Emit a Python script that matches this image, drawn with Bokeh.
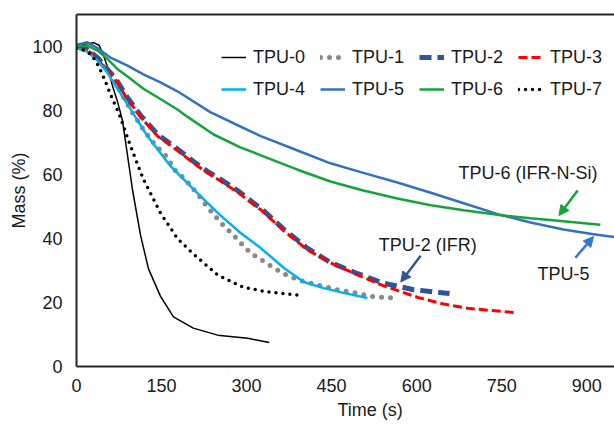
from bokeh.plotting import figure
from bokeh.models import (Range1d, LinearAxis, FixedTicker, Legend, LegendItem,
                          Label, Arrow, NormalHead, Title)
from bokeh.embed import file_html
from bokeh.resources import INLINE

FONT = "Liberation Sans"

# ---------------- data (time in s, mass in %) ----------------
x_ticks = [0, 150, 300, 450, 600, 750, 900]
y_ticks = [0, 20, 40, 60, 80, 100]

tpu0_t = [0, 15, 30, 40, 48, 56, 63, 72, 81, 90, 99, 113, 127, 148, 171, 206, 249, 302, 340]
tpu0_m = [100, 100.8, 101.2, 100.4, 97, 93, 88, 83, 77, 66, 55, 41, 30.5, 22, 15.5, 12, 9.8, 8.8, 7.5]

tpu1_t = [0, 20, 40, 60, 80, 100, 120, 140, 160, 175, 192, 213, 228, 242, 258, 277, 293, 307, 334, 363, 392, 425, 460, 492, 524, 558]
tpu1_m = [100, 99, 96, 91.5, 85, 79, 73.5, 69, 65.4, 61, 58.5, 54, 50.5, 47.5, 44.3, 41, 38, 35.5, 32.4, 29.2, 27, 25.5, 24, 23, 21.8, 21.4]

tpu2_t = [0, 20, 37, 54, 69, 90, 113, 143, 178, 207, 231, 254, 284, 313, 325, 365, 407, 448, 496, 542, 595, 648, 658]
tpu2_m = [100, 99, 96.5, 93, 90, 84, 78.5, 72.5, 68, 64, 61, 58.5, 55, 51, 49.5, 43, 37, 32.5, 29, 26, 24, 23, 22.8]

tpu3_t = [0, 20, 37, 54, 69, 90, 113, 143, 178, 207, 231, 254, 284, 313, 325, 365, 407, 448, 496, 542, 602, 648, 690, 731, 778]
tpu3_m = [100, 98.8, 96, 92.5, 89.5, 83.5, 78, 72, 67.5, 63.5, 60.5, 58, 54.5, 50.5, 49, 42.5, 36.5, 32.4, 28.6, 25.2, 21.6, 19.5, 18.2, 17.5, 16.8]

tpu4_t = [0, 19, 37, 54, 69, 95, 125, 166, 207, 249, 289, 325, 366, 401, 436, 471, 513]
tpu4_m = [99.5, 98.4, 95.6, 92, 87.7, 80.5, 72, 62.6, 55.3, 48, 41.8, 37, 30.8, 26.4, 24.5, 23, 21.4]

tpu5_t = [0, 19, 37, 60, 90, 118, 148, 178, 236, 289, 325, 390, 448, 506, 566, 625, 683, 743, 801, 859, 912, 960]
tpu5_m = [100.5, 101.3, 99.5, 96.5, 94, 91.3, 88.8, 86, 79.5, 75, 72, 67.5, 63.5, 60.5, 57.5, 54.3, 51, 47.6, 45, 42.8, 41.3, 40.2]

tpu6_t = [0, 19, 37, 54, 72, 90, 118, 148, 178, 196, 242, 289, 325, 390, 448, 506, 566, 625, 683, 743, 801, 859, 924]
tpu6_m = [100, 100.3, 98.7, 96.2, 93, 90.6, 86.8, 83.6, 80.3, 78, 72.5, 68.5, 66, 61.5, 57.8, 55, 52.5, 50.4, 48.8, 47.4, 46.3, 45.4, 44.3]

tpu7_t = [0, 10, 20, 30, 40, 50, 60, 75, 95, 118, 148, 178, 207, 249, 295, 337, 392]
tpu7_m = [99.5, 99, 98.3, 96.5, 93.5, 89.5, 85, 79, 69, 58.5, 48, 40, 35, 28.6, 24.7, 23.3, 22.3]

names = ["TPU-0", "TPU-1", "TPU-2", "TPU-3", "TPU-4", "TPU-5", "TPU-6", "TPU-7"]

# ---------------- figure ----------------
p = figure(width=614, height=427, output_backend="svg", toolbar_location=None,
           x_range=Range1d(0, 949), y_range=Range1d(0, 110),
           min_border_left=76, min_border_right=0, min_border_top=14, min_border_bottom=61)
p.outline_line_color = None
p.xgrid.visible = False
p.ygrid.visible = False
p.background_fill_color = "white"
p.border_fill_color = "white"

AX = "#262626"
TXT = "#1a1a1a"
p.xaxis.ticker = FixedTicker(ticks=x_ticks)
p.yaxis.ticker = FixedTicker(ticks=y_ticks)
p.yaxis.axis_label = "Mass (%)"
for ax in (p.xaxis[0], p.yaxis[0]):
    ax.axis_line_color = AX
    ax.axis_line_width = 2
    ax.major_tick_line_color = None
    ax.minor_tick_line_color = None
    ax.major_label_text_font = FONT
    ax.major_label_text_font_size = "18px"
    ax.major_label_text_color = TXT
    ax.axis_label_text_font = FONT
    ax.axis_label_text_font_size = "18px"
    ax.axis_label_text_font_style = "normal"
    ax.axis_label_text_color = TXT
p.xaxis.major_label_standoff = 6
p.yaxis.major_label_standoff = 8
p.yaxis.axis_label_standoff = 0

top = LinearAxis(ticker=FixedTicker(ticks=[]), axis_line_color=AX, axis_line_width=2,
                 major_tick_line_color=None, minor_tick_line_color=None,
                 major_label_text_font_size="0px")
p.add_layout(top, "above")

xtitle = Title(text="Time (s)", align="left", offset=261, standoff=6,
               text_font=FONT, text_font_size="18px", text_font_style="normal", text_color=TXT)
p.add_layout(xtitle, "below")

# ---------------- lines ----------------
r0 = p.line(tpu0_t, tpu0_m, line_color="black", line_width=1.5)
r1 = p.line(tpu1_t, tpu1_m, line_color="#8a8a8a", line_width=5, line_dash="0 9", line_cap="round")
r2 = p.line(tpu2_t, tpu2_m, line_color="#2f5597", line_width=5, line_dash="12 6")
r3 = p.line(tpu3_t, tpu3_m, line_color="#ff0000", line_width=3, line_dash="9 4")
r4 = p.line(tpu4_t, tpu4_m, line_color="#00b0f0", line_width=2.5)
r5 = p.line(tpu5_t, tpu5_m, line_color="#3571c1", line_width=2.5)
r6 = p.line(tpu6_t, tpu6_m, line_color="#16a33c", line_width=2.5)
r7 = p.line(tpu7_t, tpu7_m, line_color="black", line_width=3.5, line_dash="0 7", line_cap="round")
rends = [r0, r1, r2, r3, r4, r5, r6, r7]

legend = Legend(items=[LegendItem(label=n, renderers=[r]) for n, r in zip(names, rends)],
                orientation="horizontal", ncols=4,
                location=(145, 266), border_line_color=None, background_fill_alpha=0,
                padding=0, margin=0, spacing=10, glyph_width=25, glyph_height=22,
                label_height=22, label_width=57, label_standoff=7,
                label_text_font=FONT, label_text_font_size="18px", label_text_color=TXT)
p.add_layout(legend)

# ---------------- annotations ----------------
def lab(x, y, t, align="left"):
    p.add_layout(Label(x=x, y=y, text=t, text_font=FONT, text_font_size="18px",
                       text_color=TXT, text_align=align, text_baseline="middle"))

lab(674, 60.5, "TPU-6 (IFR-N-Si)")
lab(533, 38, "TPU-2 (IFR)")
lab(813, 29, "TPU-5")

def arrow(x0, y0, x1, y1, c):
    p.add_layout(Arrow(x_start=x0, y_start=y0, x_end=x1, y_end=y1, line_color=c, line_width=2.5,
                       end=NormalHead(size=10, fill_color=c, line_color=c)))

arrow(884, 55, 851, 47.2, "#16a33c")
arrow(607, 34.6, 572, 26.4, "#2f5597")
arrow(880, 34, 912, 40.6, "#2f7ad0")

open("out.html", "w").write(file_html(p, INLINE))
